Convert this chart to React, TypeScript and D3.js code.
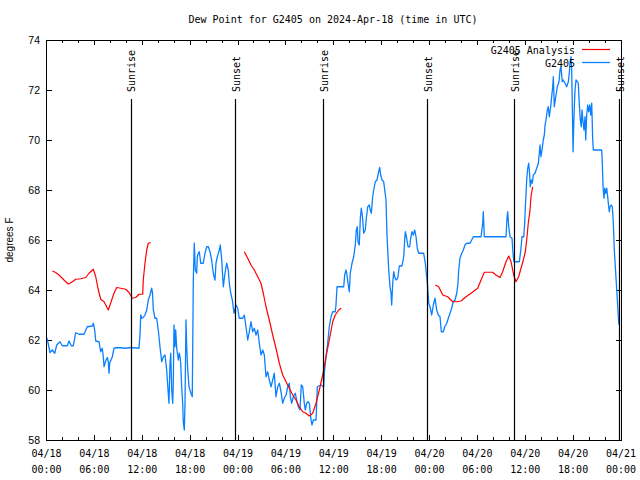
import React from "react";
import * as d3 from "d3";

// time in hours since 2024-04-18 00:00 UTC, dew point in degrees F
const stationTimes = [0,0.1,0.44,0.73,1.03,1.28,1.69,1.98,2.61,2.82,3.11,3.36,3.66,4.07,4.7,5.11,5.74,5.87,6.04,6.17,6.58,6.79,6.99,7.12,7.21,7.46,7.62,7.75,7.83,7.92,8.25,8.46,8.87,9.93,10.55,11.59,11.72,11.81,11.93,12.13,12.34,12.56,12.76,12.97,13.18,13.28,13.39,13.6,13.81,14.01,14.22,14.44,14.64,14.85,15.06,15.26,15.35,15.48,15.57,15.69,15.82,15.89,15.98,16.1,16.19,16.32,16.52,16.64,16.73,16.82,16.94,17.07,17.14,17.27,17.36,17.48,17.57,17.7,17.86,17.98,18.11,18.27,18.4,18.52,18.65,18.82,18.9,19.02,19.15,19.33,19.65,19.86,20.08,20.28,20.49,20.7,20.9,21.12,21.24,21.41,21.66,21.78,21.96,22.16,22.37,22.58,22.78,22.91,23.09,23.29,23.5,23.75,23.96,24.16,24.59,24.79,25,25.22,25.42,25.63,25.84,26.04,26.26,26.47,26.67,26.88,27.1,27.3,27.51,27.72,27.92,28.14,28.35,28.55,28.76,28.98,29.18,29.39,29.6,29.8,30.02,30.23,30.43,30.56,30.73,30.93,31.18,31.39,31.56,31.77,31.93,32.11,32.31,32.43,32.61,32.77,32.94,33.15,33.27,33.44,33.78,33.94,34.4,34.74,34.82,35.03,35.24,35.44,35.66,35.87,36.19,36.28,36.41,37.25,37.37,37.54,37.66,37.79,37.95,38.07,38.29,38.5,38.7,38.83,38.95,39.04,39.2,39.33,39.45,39.58,39.75,39.95,40.08,40.26,40.46,40.58,40.71,40.88,41.01,41.21,41.42,41.63,41.76,41.88,42.05,42.26,42.39,42.55,42.67,42.89,43.05,43.18,43.26,43.39,43.51,43.64,43.8,44.02,44.22,44.55,44.77,44.89,44.97,45.14,45.31,45.52,45.64,45.81,45.97,46.15,46.31,46.47,46.65,47.27,47.47,47.69,47.78,47.9,48.06,48.28,48.48,48.69,48.9,49.1,49.32,49.48,49.73,49.91,50.16,50.36,50.57,50.78,50.98,51.2,51.41,51.57,51.66,51.82,52.04,52.24,52.45,52.66,53.08,53.29,53.49,54.46,54.67,54.74,54.87,55.92,57.17,57.59,57.71,57.8,57.93,58.09,58.34,58.5,58.59,59.26,59.47,59.59,59.81,59.93,60.01,60.1,60.18,60.31,60.43,60.51,60.63,60.76,60.88,61.01,61.22,61.44,61.64,61.76,61.85,61.97,62.1,62.26,62.39,62.48,62.6,62.76,62.89,63.01,63.19,63.31,63.44,63.52,63.64,63.82,64.02,64.23,64.36,64.48,64.64,64.77,64.98,65.19,65.4,65.52,65.61,65.73,65.82,65.9,65.99,66.07,66.15,66.24,66.36,66.52,66.65,66.77,66.9,67.02,67.11,67.24,67.36,67.49,67.58,67.7,67.83,67.95,68.08,68.2,68.33,68.45,68.53,69.58,69.66,69.75,69.87,69.96,70.08,70.21,70.33,70.46,70.53,70.62,70.75,70.91,71.04,71.16,71.34,71.47,71.59,71.72,71.76];
const stationValues = [62.1,62.03,61.5,61.6,61.47,61.8,61.93,61.77,61.77,61.96,61.77,61.77,62.29,62.23,62.23,62.53,62.56,62.67,62.4,61.96,61.93,61.53,61.67,61.33,60.93,61.2,61.3,61.13,60.67,61.07,61.33,61.67,61.7,61.67,61.7,61.67,62.2,63.0,62.87,62.9,63.0,63.2,63.6,63.8,64.07,63.9,63.2,62.87,62.87,62.4,61.73,61.13,61.33,61.4,60.8,59.87,59.47,61.07,61.47,60.0,59.47,60.27,62.6,61.73,62.4,61.67,61.2,61.47,61.33,61.07,60.13,59.47,58.73,58.4,59.47,62.8,61.73,60.8,60.13,60.0,59.87,59.73,64.4,65.87,64.8,64.67,65.33,65.47,65.53,65.07,65.07,65.47,65.73,65.73,65.53,65.2,64.67,64.4,65.07,65.33,65.6,65.8,65.2,64.13,64.67,65.07,64.8,64.27,63.87,63.6,63.07,63.4,63.27,62.87,62.87,63.0,62.53,62.0,62.33,62.73,62.33,62.47,62.2,62.4,61.87,61.4,61.6,61.4,60.53,60.73,60.4,60.13,60.4,60.67,59.73,60.13,60.27,59.93,59.47,59.67,59.8,60.13,60.27,59.73,59.47,59.73,59.87,59.53,59.33,59.2,60.2,60.13,59.47,59.2,59.47,59.53,59.47,58.8,58.6,58.8,58.8,60.13,60.2,60.13,60.67,61.33,61.87,62.53,62.93,63.13,63.13,63.4,64.13,64.13,64.6,64.8,64.6,64.27,63.93,64.67,65.07,65.33,65.8,66.4,66.53,65.93,65.8,66.87,67.27,67.0,66.27,66.4,66.87,67.33,67.4,67.2,67.07,67.73,68.0,68.33,68.4,68.73,68.9,68.6,68.4,68.33,68.0,67.6,66.2,64.8,64.13,63.87,63.4,64.27,64.73,64.53,64.4,64.47,64.96,64.96,65.33,66.0,66.33,66.07,65.73,65.73,66.07,66.33,66.2,66.4,66.13,65.67,65.47,65.47,65.07,64.4,64.07,63.47,63.33,63.0,63.4,63.67,63.2,63.0,62.93,62.33,62.33,62.53,62.67,62.87,63.07,63.27,63.53,63.6,63.87,64.27,64.8,65.27,65.47,65.6,65.8,65.87,65.87,66.0,66.13,66.13,66.67,67.13,66.13,66.13,66.13,66.13,66.87,67.13,66.53,66.13,66.07,65.33,65.13,65.13,65.67,66.13,66.13,66.67,67.33,67.87,68.4,68.87,69.07,68.8,68.13,68.4,68.27,68.6,68.67,68.87,69.07,69.47,69.8,69.33,69.6,70.0,70.2,70.6,70.8,71.2,71.33,70.93,71.33,71.73,72.13,72.53,71.33,71.73,72.13,72.33,72.8,72.93,72.33,72.4,72.27,72.13,72.33,72.67,73.07,73.33,72.8,71.33,69.53,70.53,71.33,72.0,72.4,72.33,72.27,71.47,70.8,70.53,71.2,70.73,70.4,70.93,70.0,71.0,71.4,71.13,71.4,71.0,71.47,70.07,69.6,69.6,69.07,68.13,67.67,68.07,67.87,68.07,67.73,67.33,67.13,67.33,67.4,67.33,66.67,65.6,64.67,64.0,63.33,62.67,62.6];

const analysisTimes1 = [0.73,1.15,1.57,2.19,2.73,3.11,3.66,4.29,4.91,5.33,5.87,6.17,6.45,6.79,7.21,7.75,8.17,8.46,8.8,9.3,9.93,10.34,10.75,11.18,11.59,12.06,12.13,12.34,12.56,12.76,13.06];
const analysisValues1 = [64.76,64.7,64.6,64.4,64.24,64.3,64.43,64.45,64.5,64.67,64.83,64.53,64.07,63.63,63.53,63.2,63.6,63.87,64.1,64.07,64.03,63.9,63.67,63.7,63.83,63.83,64.4,65.07,65.6,65.87,65.9];
const analysisTimes2 = [24.79,25.22,25.63,26.04,26.47,26.88,27.17,27.51,27.92,28.35,28.76,29.18,29.6,30.02,30.43,30.86,31.27,31.68,32.11,32.52,32.94,33.36,33.78,34.19,34.62,35.03,35.44,35.87,36.19,36.62,36.95];
const analysisValues2 = [65.53,65.27,65.0,64.8,64.53,64.27,63.87,63.33,62.8,62.2,61.67,61.07,60.6,60.33,60.07,59.8,59.6,59.33,59.13,59.07,58.96,59.07,59.47,60.0,60.6,61.33,62.0,62.73,63.0,63.2,63.27];
const analysisTimes3 = [48.73,49.15,49.66,50.28,50.91,51.45,51.95,52.58,53.2,54.04,54.46,54.87,55.92,56.33,56.84,57.17,57.59,57.93,58.22,58.55,58.84,59.17,59.47,59.76,60.01,60.18,60.38,60.6,60.72,60.93];
const analysisValues3 = [64.2,64.13,63.8,63.73,63.53,63.53,63.56,63.73,63.87,64.07,64.4,64.71,64.71,64.6,64.5,64.73,65.13,65.36,65.13,64.6,64.33,64.53,64.87,65.2,65.53,66.0,66.67,67.2,67.73,68.13];

const sunTimes = [10.59, 23.66, 34.69, 47.72, 58.63, 71.79];
const sunLabels = ["Sunrise", "Sunset", "Sunrise", "Sunset", "Sunrise", "Sunset"];

const xTickDates = ["04/18","04/18","04/18","04/18","04/19","04/19","04/19","04/19","04/20","04/20","04/20","04/20","04/21"];
const xTickTimes = ["00:00","06:00","12:00","18:00","00:00","06:00","12:00","18:00","00:00","06:00","12:00","18:00","00:00"];
const yTicks = [58, 60, 62, 64, 66, 68, 70, 72, 74];

const title = "Dew Point for G2405 on 2024-Apr-18 (time in UTC)";
const yLabel = "degrees F";
const legendNames = ["G2405 Analysis", "G2405"];

const W = 640, H = 480;
const L = 46.5, R = 621, T = 40, B = 440;
const MONO = "'DejaVu Sans Mono', monospace";
const SANS = "'Liberation Sans', Arial, sans-serif";
const RED = "#ff0000";
const BLUE = "#0a80ff";

export default function App() {
  const x = d3.scaleLinear().domain([0, 72]).range([L, R]);
  const y = d3.scaleLinear().domain([58, 74]).range([B, T]);
  const line = d3.line<[number, number]>().x(d => x(d[0])).y(d => y(d[1]));
  const zip = (a: number[], b: number[]) => a.map((t, i) => [t, b[i]] as [number, number]);

  const station = zip(stationTimes, stationValues);
  const analysis = [zip(analysisTimes1, analysisValues1), zip(analysisTimes2, analysisValues2), zip(analysisTimes3, analysisValues3)];

  const majorX = d3.range(0, 73, 6);
  const minorX = d3.range(0, 73, 2).filter(h => h % 6 !== 0);

  return (
    <svg width={W} height={H} style={{ position: "absolute", left: 0, top: 0, background: "#fff" }}>
      <rect x={0} y={0} width={W} height={H} fill="#fff" />
      <text x={333} y={23} textAnchor="middle" fontFamily={MONO} fontSize={10}>{title}</text>
      <text transform={`translate(13,${(T + B) / 2}) rotate(-90)`} textAnchor="middle" fontFamily={SANS} fontSize={10}>{yLabel}</text>

      <g shapeRendering="crispEdges" stroke="#000" strokeWidth={1}>
        {yTicks.map(v => (
          <g key={v}>
            <line x1={L} x2={L + 5} y1={y(v)} y2={y(v)} />
            <line x1={R - 5} x2={R} y1={y(v)} y2={y(v)} />
          </g>
        ))}
        {majorX.map(h => (
          <g key={"M" + h}>
            <line x1={x(h)} x2={x(h)} y1={B} y2={B - 5} />
            <line x1={x(h)} x2={x(h)} y1={T} y2={T + 5} />
          </g>
        ))}
        {minorX.map(h => (
          <g key={"m" + h}>
            <line x1={x(h)} x2={x(h)} y1={B} y2={B - 3} />
            <line x1={x(h)} x2={x(h)} y1={T} y2={T + 3} />
          </g>
        ))}
      </g>

      {yTicks.map(v => (
        <text key={v} x={40} y={y(v) + 4} textAnchor="end" fontFamily={SANS} fontSize={10.5}>{v}</text>
      ))}
      {majorX.map((h, i) => (
        <g key={"l" + h} fontFamily={MONO} fontSize={10} textAnchor="middle">
          <text x={x(h)} y={457}>{xTickDates[i]}</text>
          <text x={x(h)} y={473}>{xTickTimes[i]}</text>
        </g>
      ))}

      <g fill="none" strokeLinejoin="round">
        <path d={line(station) || ""} stroke={BLUE} strokeWidth={1.3} />
        {analysis.map((seg, i) => (
          <path key={i} d={line(seg) || ""} stroke={RED} strokeWidth={1.2} />
        ))}
      </g>

      {sunTimes.map((h, i) => (
        <g key={"s" + i}>
          <line x1={Math.round(x(h)) + 0.5} x2={Math.round(x(h)) + 0.5} y1={99} y2={B} stroke="#000" strokeWidth={1.2} />
          <text transform={`translate(${x(h) + 4.5},92) rotate(-90)`} textAnchor="start" fontFamily={MONO} fontSize={10}>{sunLabels[i]}</text>
        </g>
      ))}

      <g fontFamily={MONO} fontSize={10} textAnchor="end">
        <text x={575} y={54}>{legendNames[0]}</text>
        <line x1={582} x2={610} y1={49.5} y2={49.5} stroke={RED} strokeWidth={1.2} />
        <text x={575} y={67}>{legendNames[1]}</text>
        <line x1={582} x2={610} y1={62.5} y2={62.5} stroke={BLUE} strokeWidth={1.3} />
      </g>

      <rect x={L} y={T} width={R - L} height={B - T} fill="none" stroke="#000" strokeWidth={1} shapeRendering="crispEdges" />
    </svg>
  );
}
